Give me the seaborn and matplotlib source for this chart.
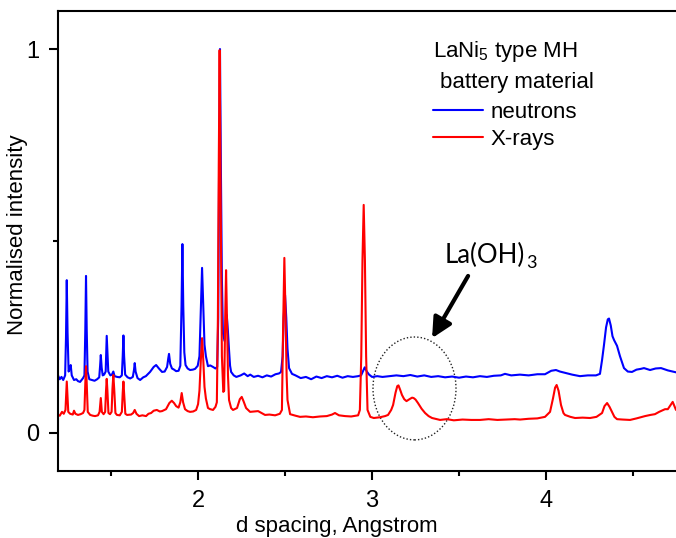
import matplotlib
matplotlib.use("Agg")
import matplotlib.pyplot as plt
from matplotlib.patches import Ellipse
from matplotlib.ticker import FixedLocator
import seaborn as sns
import pandas as pd

# ---------------- data ----------------
neutron_d = [1.195, 1.205, 1.215, 1.225, 1.236, 1.241, 1.2454, 1.250, 1.256, 1.262, 1.268, 1.274,
             1.287, 1.300, 1.310, 1.322, 1.339, 1.347, 1.352, 1.356, 1.360, 1.365, 1.375, 1.390,
             1.405, 1.420, 1.432, 1.437, 1.441, 1.446, 1.452, 1.460, 1.469, 1.472, 1.475, 1.479,
             1.484, 1.496, 1.505, 1.513, 1.520, 1.535, 1.550, 1.562, 1.567, 1.571, 1.575, 1.581,
             1.595, 1.610, 1.625, 1.632, 1.636, 1.641, 1.652, 1.667, 1.685, 1.700, 1.724, 1.745,
             1.759, 1.775, 1.793, 1.808, 1.822, 1.829, 1.833, 1.840, 1.850, 1.862, 1.874, 1.888,
             1.898, 1.905, 1.910, 1.915, 1.921, 1.928, 1.940, 1.954, 1.970, 1.983, 1.998, 2.008,
             2.016, 2.023, 2.030, 2.037, 2.045, 2.057, 2.070, 2.086, 2.100, 2.110, 2.116, 2.121,
             2.126, 2.131, 2.137, 2.143, 2.152, 2.160, 2.165, 2.171, 2.178, 2.184, 2.190, 2.205,
             2.220, 2.245, 2.265, 2.285, 2.300, 2.320, 2.345, 2.370, 2.395, 2.420, 2.445, 2.465,
             2.477, 2.486, 2.492, 2.500, 2.507, 2.514, 2.523, 2.540, 2.560, 2.590, 2.620, 2.650,
             2.680, 2.710, 2.740, 2.770, 2.800, 2.830, 2.860, 2.890, 2.920, 2.937, 2.950, 2.958,
             2.970, 2.983, 3.000, 3.030, 3.060, 3.100, 3.140, 3.180, 3.220, 3.260, 3.300, 3.340,
             3.380, 3.420, 3.460, 3.500, 3.540, 3.580, 3.620, 3.660, 3.700, 3.740, 3.764, 3.800,
             3.850, 3.900, 3.950, 3.994, 4.030, 4.057, 4.080, 4.115, 4.150, 4.195, 4.240, 4.287,
             4.310, 4.322, 4.333, 4.345, 4.355, 4.362, 4.372, 4.382, 4.391, 4.408, 4.425, 4.448,
             4.470, 4.494, 4.520, 4.545, 4.563, 4.598, 4.630, 4.661, 4.700, 4.747]
neutron_I = [0.150, 0.140, 0.146, 0.138, 0.150, 0.250, 0.398, 0.260, 0.160, 0.168, 0.177, 0.150,
             0.138, 0.140, 0.135, 0.133, 0.143, 0.150, 0.270, 0.409, 0.270, 0.160, 0.140, 0.138,
             0.136, 0.140, 0.145, 0.175, 0.203, 0.170, 0.150, 0.152, 0.160, 0.210, 0.253, 0.210,
             0.160, 0.150, 0.152, 0.160, 0.148, 0.146, 0.145, 0.150, 0.200, 0.254, 0.200, 0.152,
             0.145, 0.142, 0.146, 0.165, 0.182, 0.160, 0.143, 0.138, 0.145, 0.148, 0.159, 0.172,
             0.177, 0.168, 0.159, 0.160, 0.172, 0.195, 0.206, 0.180, 0.168, 0.165, 0.161, 0.162,
             0.175, 0.330, 0.492, 0.330, 0.210, 0.177, 0.168, 0.164, 0.165, 0.167, 0.175, 0.200,
             0.320, 0.430, 0.330, 0.230, 0.200, 0.174, 0.176, 0.172, 0.168, 0.172, 0.300, 0.700,
             1.000, 0.700, 0.400, 0.260, 0.240, 0.280, 0.307, 0.270, 0.216, 0.175, 0.159, 0.150,
             0.146, 0.150, 0.155, 0.148, 0.152, 0.146, 0.149, 0.145, 0.150, 0.147, 0.153, 0.155,
             0.159, 0.200, 0.300, 0.359, 0.300, 0.220, 0.169, 0.154, 0.150, 0.143, 0.146, 0.140,
             0.147, 0.143, 0.148, 0.145, 0.149, 0.144, 0.148, 0.146, 0.148, 0.150, 0.163, 0.171,
             0.160, 0.152, 0.146, 0.148, 0.146, 0.148, 0.150, 0.148, 0.151, 0.147, 0.150, 0.146,
             0.148, 0.145, 0.147, 0.144, 0.147, 0.145, 0.148, 0.146, 0.149, 0.150, 0.154, 0.150,
             0.152, 0.150, 0.153, 0.153, 0.162, 0.164, 0.160, 0.156, 0.152, 0.148, 0.150, 0.150,
             0.154, 0.190, 0.229, 0.275, 0.296, 0.298, 0.280, 0.252, 0.242, 0.227, 0.200, 0.169,
             0.160, 0.159, 0.165, 0.167, 0.169, 0.164, 0.168, 0.169, 0.163, 0.158]

xray_d = [1.195, 1.205, 1.218, 1.228, 1.238, 1.242, 1.2454, 1.249, 1.254, 1.265, 1.280, 1.287,
          1.295, 1.310, 1.325, 1.339, 1.347, 1.352, 1.356, 1.360, 1.366, 1.380, 1.395, 1.408,
          1.425, 1.434, 1.441, 1.447, 1.457, 1.466, 1.471, 1.475, 1.479, 1.485, 1.494, 1.503,
          1.508, 1.513, 1.518, 1.525, 1.534, 1.550, 1.562, 1.567, 1.571, 1.575, 1.582, 1.592,
          1.615, 1.627, 1.636, 1.646, 1.661, 1.680, 1.701, 1.715, 1.730, 1.745, 1.763, 1.780,
          1.793, 1.816, 1.835, 1.849, 1.862, 1.874, 1.888, 1.898, 1.906, 1.914, 1.925, 1.940,
          1.954, 1.972, 1.989, 2.000, 2.008, 2.016, 2.023, 2.030, 2.037, 2.045, 2.057, 2.070,
          2.086, 2.100, 2.108, 2.114, 2.119, 2.124, 2.130, 2.137, 2.145, 2.150, 2.156, 2.161,
          2.166, 2.172, 2.178, 2.190, 2.201, 2.215, 2.224, 2.240, 2.251, 2.262, 2.276, 2.299,
          2.320, 2.345, 2.365, 2.385, 2.410, 2.443, 2.470, 2.482, 2.488, 2.496, 2.503, 2.509,
          2.514, 2.529, 2.560, 2.586, 2.620, 2.660, 2.701, 2.740, 2.770, 2.787, 2.810, 2.845,
          2.880, 2.920, 2.930, 2.938, 2.945, 2.952, 2.959, 2.966, 2.974, 2.990, 3.010, 3.046,
          3.075, 3.092, 3.110, 3.121, 3.135, 3.145, 3.152, 3.162, 3.172, 3.185, 3.198, 3.215,
          3.230, 3.239, 3.250, 3.264, 3.285, 3.305, 3.325, 3.345, 3.391, 3.430, 3.470, 3.520,
          3.570, 3.621, 3.670, 3.720, 3.770, 3.820, 3.851, 3.900, 3.950, 3.994, 4.023, 4.040,
          4.052, 4.061, 4.072, 4.086, 4.100, 4.109, 4.140, 4.167, 4.210, 4.253, 4.290, 4.322,
          4.336, 4.351, 4.365, 4.379, 4.393, 4.408, 4.440, 4.483, 4.520, 4.569, 4.600, 4.626,
          4.650, 4.684, 4.700, 4.715, 4.728, 4.740, 4.747]
xray_I = [0.047, 0.045, 0.055, 0.050, 0.060, 0.100, 0.134, 0.100, 0.055, 0.050, 0.048, 0.058,
          0.050, 0.047, 0.049, 0.052, 0.060, 0.130, 0.174, 0.130, 0.055, 0.047, 0.045, 0.044,
          0.046, 0.055, 0.091, 0.055, 0.049, 0.055, 0.110, 0.141, 0.110, 0.052, 0.049, 0.055,
          0.115, 0.151, 0.115, 0.052, 0.047, 0.046, 0.055, 0.105, 0.134, 0.105, 0.050, 0.047,
          0.048, 0.052, 0.060, 0.050, 0.044, 0.046, 0.044, 0.050, 0.052, 0.058, 0.060, 0.056,
          0.057, 0.062, 0.078, 0.084, 0.078, 0.070, 0.066, 0.080, 0.104, 0.080, 0.062, 0.057,
          0.055, 0.056, 0.060, 0.075, 0.110, 0.190, 0.247, 0.190, 0.120, 0.090, 0.065, 0.062,
          0.060, 0.068, 0.080, 0.300, 0.700, 0.997, 0.600, 0.200, 0.107, 0.110, 0.300, 0.424,
          0.300, 0.150, 0.086, 0.065, 0.060, 0.063, 0.065, 0.088, 0.094, 0.082, 0.065, 0.055,
          0.056, 0.057, 0.052, 0.047, 0.048, 0.046, 0.050, 0.060, 0.250, 0.456, 0.300, 0.150,
          0.086, 0.049, 0.045, 0.042, 0.043, 0.041, 0.043, 0.044, 0.048, 0.052, 0.046, 0.044,
          0.043, 0.046, 0.060, 0.200, 0.450, 0.594, 0.450, 0.200, 0.060, 0.042, 0.039, 0.041,
          0.044, 0.047, 0.060, 0.073, 0.105, 0.122, 0.124, 0.112, 0.099, 0.088, 0.083, 0.088,
          0.092, 0.091, 0.087, 0.078, 0.063, 0.052, 0.044, 0.039, 0.034, 0.036, 0.033, 0.035,
          0.034, 0.034, 0.036, 0.034, 0.035, 0.036, 0.035, 0.037, 0.038, 0.042, 0.055, 0.090,
          0.118, 0.125, 0.110, 0.073, 0.052, 0.047, 0.042, 0.039, 0.040, 0.039, 0.042, 0.052,
          0.070, 0.078, 0.068, 0.055, 0.042, 0.036, 0.035, 0.034, 0.038, 0.044, 0.047, 0.049,
          0.055, 0.062, 0.062, 0.072, 0.081, 0.068, 0.060]

x_major = [2, 3, 4]
x_minor = [1.5, 2.5, 3.5, 4.5]
y_major = [0, 1]
y_minor = [0.5]
legend_title_1 = "LaNi$_5$ type MH"
legend_title_2 = "battery material"
series_labels = ["neutrons", "X-rays"]
annot_text = "La(OH)"
annot_sub = "3"

# ---------------- style ----------------
sns.set_theme(style="ticks")
plt.rcParams["font.family"] = ["Liberation Sans", "DejaVu Sans"]
plt.rcParams["mathtext.fontset"] = "custom"
plt.rcParams["mathtext.rm"] = "Liberation Sans"
plt.rcParams["mathtext.it"] = "Liberation Sans"
plt.rcParams["mathtext.default"] = "rm"
for key in ["text.color", "axes.labelcolor", "xtick.color", "ytick.color", "axes.edgecolor"]:
    plt.rcParams[key] = "black"

fig = plt.figure(figsize=(6.76, 5.38), dpi=100)
ax = fig.add_axes([58 / 676, 1 - 471 / 538, 1 - 58 / 676, (471 - 11) / 538])

neut = pd.DataFrame({"d": neutron_d, "I": neutron_I})
xray = pd.DataFrame({"d": xray_d, "I": xray_I})
sns.lineplot(data=neut, x="d", y="I", ax=ax, color="#0000ff", lw=1.5,
             estimator=None, sort=False, label=series_labels[0])
sns.lineplot(data=xray, x="d", y="I", ax=ax, color="#ff0000", lw=1.5,
             estimator=None, sort=False, label=series_labels[1])

ax.set_xlim(1.195, 4.747)
ax.set_ylim(-0.099, 1.099)

ax.xaxis.set_major_locator(FixedLocator(x_major))
ax.xaxis.set_minor_locator(FixedLocator(x_minor))
ax.yaxis.set_major_locator(FixedLocator(y_major))
ax.yaxis.set_minor_locator(FixedLocator(y_minor))
ax.set_xticklabels([str(v) for v in x_major])
ax.set_yticklabels([str(v) for v in y_major])
ax.tick_params(axis="both", which="major", direction="out", length=6.5, width=1.5,
               labelsize=17, pad=7, colors="black")
ax.tick_params(axis="both", which="minor", direction="out", length=3.8, width=1.5)

for side in ["left", "bottom", "top"]:
    ax.spines[side].set_linewidth(1.5)
    ax.spines[side].set_color("black")
ax.spines["right"].set_visible(False)

ax.set_xlabel("d spacing, Angstrom", fontsize=16)
ax.set_ylabel("Normalised intensity", fontsize=16)
ax.xaxis.set_label_coords(0.451, -0.097)
ax.yaxis.set_label_coords(-0.048, 0.513)

# legend: two title lines as text, entries as a legend
ax.text(0.607, 0.901, legend_title_1, transform=ax.transAxes, fontsize=16,
        ha="left", va="baseline")
ax.text(0.618, 0.8326, legend_title_2, transform=ax.transAxes, fontsize=16,
        ha="left", va="baseline")
leg = ax.legend(loc="upper left", bbox_to_anchor=(0.606, 0.803),
                frameon=False, fontsize=16, borderpad=0,
                borderaxespad=0, handlelength=2.25, handletextpad=0.36,
                labelspacing=0.285)

# dotted ellipse + arrow + label
ell = Ellipse((3.244, 0.116), 0.477, 0.268, fill=False, ls=(0, (1, 1.5)),
              lw=1.0, ec="#222222")
ax.add_patch(ell)
ax.annotate("", xy=(3.345, 0.247), xytext=(3.552, 0.409),
            arrowprops=dict(arrowstyle="-|>,head_length=0.6,head_width=0.3",
                            lw=3, mutation_scale=20, color="black",
                            shrinkA=0, shrinkB=0))
t = ax.text(3.4195, 0.443, annot_text, fontsize=18.5, family=["Lato", "DejaVu Sans"],
            ha="left", va="baseline", color="black")
ax.annotate(annot_sub, xy=(1, 0), xycoords=t, xytext=(0.3, 0), textcoords="offset points",
            fontsize=13, family=["Lato", "DejaVu Sans"], ha="left", va="baseline",
            color="black")

fig.savefig("out.png", dpi=100)
